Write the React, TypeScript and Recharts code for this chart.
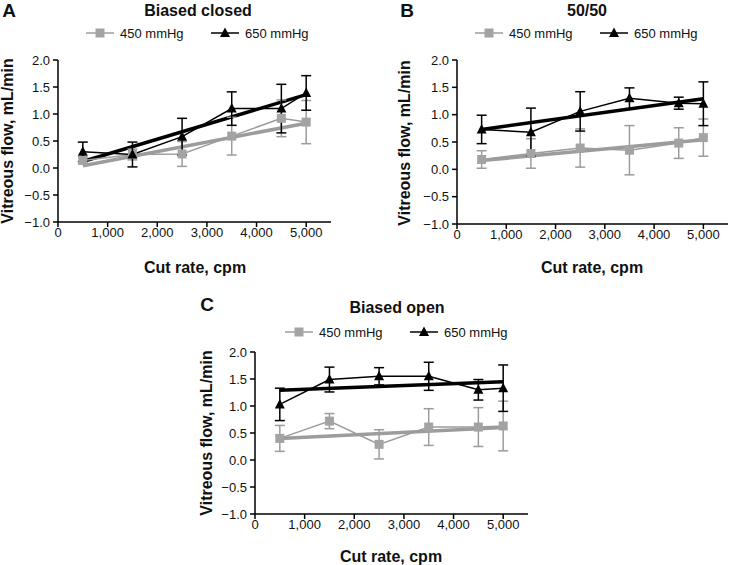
import React from 'react'
import { ComposedChart, Line, XAxis, YAxis, ErrorBar } from 'recharts'

const cutRates = [500, 1500, 2500, 3500, 4500, 5000]
const xTicks = [0, 1000, 2000, 3000, 4000, 5000]
const yTicks = [-1, -0.5, 0, 0.5, 1, 1.5, 2]

// Biased closed
const closed450 = [0.14, 0.25, 0.26, 0.59, 0.92, 0.85]
const closed450Err = [0.06, 0.1, 0.23, 0.35, 0.34, 0.4]
const closed650 = [0.3, 0.25, 0.58, 1.1, 1.1, 1.39]
const closed650Err = [0.18, 0.23, 0.34, 0.31, 0.45, 0.32]
const closed450Fit = [0.04, null, null, null, null, 0.83]
const closed650Fit = [0.12, null, null, null, null, 1.36]

// 50/50
const half450 = [0.18, 0.29, 0.39, 0.35, 0.48, 0.58]
const half450Err = [0.16, 0.27, 0.35, 0.45, 0.28, 0.34]
const half650 = [0.73, 0.68, 1.06, 1.3, 1.21, 1.2]
const half650Err = [0.26, 0.44, 0.36, 0.19, 0.11, 0.4]
const half450Fit = [0.16, null, null, null, null, 0.54]
const half650Fit = [0.73, null, null, null, null, 1.29]

// Biased open
const open450 = [0.4, 0.72, 0.29, 0.61, 0.61, 0.63]
const open450Err = [0.24, 0.14, 0.27, 0.34, 0.36, 0.46]
const open650 = [1.03, 1.49, 1.55, 1.55, 1.3, 1.33]
const open650Err = [0.3, 0.23, 0.16, 0.26, 0.19, 0.43]
const open450Fit = [0.4, null, null, null, null, 0.6]
const open650Fit = [1.29, null, null, null, null, 1.45]

const GRAY = '#9c9c9c'
const BLACK = '#000000'
const FONT = '"Liberation Sans", Arial, Helvetica, sans-serif'

function buildRows(
  a: number[], ae: number[], b: number[], be: number[],
  af: (number | null)[], bf: (number | null)[],
) {
  return cutRates.map((x, i) => ({
    x,
    low: a[i],
    lowErr: ae[i],
    high: b[i],
    highErr: be[i],
    lowFit: af[i],
    highFit: bf[i],
  }))
}

function fmtY(v: number) {
  return (v < 0 ? '\u2212' : '') + Math.abs(v).toFixed(1)
}

function fmtX(v: number) {
  return v.toLocaleString('en-US')
}

const squareDot = (props: any) => {
  const { cx, cy, index } = props
  if (cx == null || cy == null) return <g key={`s-${index}`} />
  return <rect key={`s-${index}`} x={cx - 4.5} y={cy - 4.5} width={9} height={9} fill="#a3a3a3" />
}

const triangleDot = (props: any) => {
  const { cx, cy, index } = props
  if (cx == null || cy == null) return <g key={`t-${index}`} />
  return (
    <polygon
      key={`t-${index}`}
      points={`${cx},${cy - 5.5} ${cx - 5},${cy + 4} ${cx + 5},${cy + 4}`}
      fill={BLACK}
    />
  )
}

interface PanelProps {
  letter: string
  title: string
  rows: ReturnType<typeof buildRows>
  axisX: number
  plotTop: number
  plotW: number
  plotH: number
  letterX: number
  letterY: number
  titleX: number
  titleY: number
  legendY: number
  grayLegendX: number
  blackLegendX: number
  yLabelX: number
  yLabelY: number
  xLabelX: number
  xLabelY: number
}

const centered: React.CSSProperties = {
  position: 'absolute',
  transform: 'translate(-50%, -50%)',
  whiteSpace: 'nowrap',
  fontFamily: FONT,
  color: '#111',
}

function LegendItem({ x, y, label, marker }: { x: number; y: number; label: string; marker: 'square' | 'triangle' }) {
  const color = marker === 'square' ? GRAY : BLACK
  return (
    <div style={{ position: 'absolute', left: x, top: y - 9, height: 18, display: 'flex', alignItems: 'center', fontFamily: FONT, fontSize: 13, color: '#111', whiteSpace: 'nowrap' }}>
      <svg width={28} height={14} style={{ marginRight: 6 }}>
        <line x1={0} y1={7} x2={28} y2={7} stroke={color} strokeWidth={1.5} />
        {marker === 'square' ? (
          <rect x={9.5} y={2.5} width={9} height={9} fill="#a3a3a3" />
        ) : (
          <polygon points="14,1.5 9,11 19,11" fill={BLACK} />
        )}
      </svg>
      <span>{label}</span>
    </div>
  )
}

function Panel(p: PanelProps) {
  const yAxisW = 58
  const top = 10
  const xAxisH = 30
  return (
    <>
      <div style={{ ...centered, left: p.letterX, top: p.letterY, fontSize: 19, fontWeight: 700 }}>{p.letter}</div>
      <div style={{ ...centered, left: p.titleX, top: p.titleY, fontSize: 16, fontWeight: 700 }}>{p.title}</div>
      <LegendItem x={p.grayLegendX} y={p.legendY} label="450 mmHg" marker="square" />
      <LegendItem x={p.blackLegendX} y={p.legendY} label="650 mmHg" marker="triangle" />
      <div style={{ ...centered, left: p.yLabelX, top: p.yLabelY, fontSize: 16, fontWeight: 700, transform: 'translate(-50%, -50%) rotate(-90deg)' }}>
        Vitreous flow, mL/min
      </div>
      <div style={{ ...centered, left: p.xLabelX, top: p.xLabelY, fontSize: 16, fontWeight: 700 }}>Cut rate, cpm</div>
      <div style={{ position: 'absolute', left: p.axisX - yAxisW, top: p.plotTop - top }}>
        <ComposedChart
          width={yAxisW + p.plotW + 2}
          height={top + p.plotH + xAxisH}
          data={p.rows}
          margin={{ top, right: 2, bottom: 0, left: 0 }}
        >
          <XAxis
            dataKey="x"
            type="number"
            domain={[0, 5500]}
            ticks={xTicks}
            tickFormatter={fmtX}
            height={xAxisH}
            allowDataOverflow
            stroke={BLACK}
            strokeWidth={1.5}
            tickSize={5}
            tickMargin={1}
            tick={{ fontSize: 13, fill: '#111', fontFamily: FONT }}
          />
          <YAxis
            type="number"
            domain={[-1, 2]}
            ticks={yTicks}
            tickFormatter={fmtY}
            width={yAxisW}
            allowDataOverflow
            stroke={BLACK}
            strokeWidth={1.5}
            tickSize={5}
            tickMargin={3}
            tick={{ fontSize: 13, fill: '#111', fontFamily: FONT }}
          />
          <Line dataKey="lowFit" stroke={GRAY} strokeWidth={3.5} dot={false} connectNulls isAnimationActive={false} />
          <Line dataKey="highFit" stroke={BLACK} strokeWidth={3.5} dot={false} connectNulls isAnimationActive={false} />
          <Line dataKey="low" stroke={GRAY} strokeWidth={1.5} dot={squareDot} activeDot={false} isAnimationActive={false}>
            <ErrorBar dataKey="lowErr" direction="y" width={5} stroke={GRAY} strokeWidth={1.5} />
          </Line>
          <Line dataKey="high" stroke={BLACK} strokeWidth={1.5} dot={triangleDot} activeDot={false} isAnimationActive={false}>
            <ErrorBar dataKey="highErr" direction="y" width={5} stroke={BLACK} strokeWidth={1.5} />
          </Line>
        </ComposedChart>
      </div>
    </>
  )
}

export default function App() {
  return (
    <div style={{ position: 'absolute', left: 0, top: 0, width: 732, height: 565, background: '#fff', overflow: 'hidden' }}>
      <Panel
        letter="A"
        title="Biased closed"
        rows={buildRows(closed450, closed450Err, closed650, closed650Err, closed450Fit, closed650Fit)}
        axisX={58}
        plotTop={60}
        plotW={273}
        plotH={162}
        letterX={9}
        letterY={11}
        titleX={198}
        titleY={11}
        legendY={33}
        grayLegendX={86}
        blackLegendX={211}
        yLabelX={8}
        yLabelY={141}
        xLabelX={195}
        xLabelY={268}
      />
      <Panel
        letter="B"
        title="50/50"
        rows={buildRows(half450, half450Err, half650, half650Err, half450Fit, half650Fit)}
        axisX={457}
        plotTop={60}
        plotW={271}
        plotH={164}
        letterX={407}
        letterY={11}
        titleX={587}
        titleY={11}
        legendY={33}
        grayLegendX={475}
        blackLegendX={600}
        yLabelX={405}
        yLabelY={143}
        xLabelX={592}
        xLabelY={268}
      />
      <Panel
        letter="C"
        title="Biased open"
        rows={buildRows(open450, open450Err, open650, open650Err, open450Fit, open650Fit)}
        axisX={255}
        plotTop={352}
        plotW={273}
        plotH={162}
        letterX={207}
        letterY={305}
        titleX={397}
        titleY={308}
        legendY={332}
        grayLegendX={285}
        blackLegendX={410}
        yLabelX={207}
        yLabelY={433}
        xLabelX={391}
        xLabelY={557}
      />
    </div>
  )
}
